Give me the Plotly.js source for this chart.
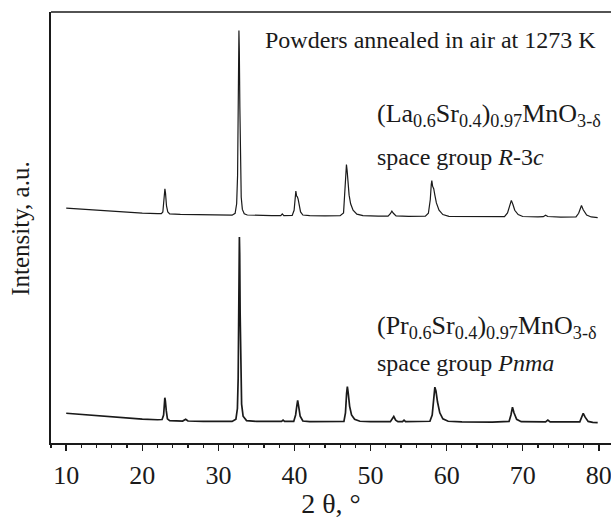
<!DOCTYPE html>
<html>
<head>
<meta charset="utf-8">
<script src="https://cdn.plot.ly/plotly-3.0.1.min.js"></script>
<style>
  html, body { margin: 0; padding: 0; background: #fff; }
  #chart { width: 611px; height: 519px; }
</style>
</head>
<body>
<div id="chart"></div>
<script>
// XRD pattern of (La0.6Sr0.4)0.97MnO3-d (upper curve, offset upward)
const laTheta = [10.0, 12, 14, 16, 18, 20, 22, 22.5, 22.7, 22.82, 22.92, 22.97, 23.05, 23.18, 23.35, 23.6,
  25, 27, 29, 31, 31.8, 32.2, 32.4, 32.52, 32.6, 32.65, 32.7, 32.75, 32.82, 32.9, 33.0, 33.15, 33.4, 33.8,
  35, 37, 38.2, 38.4, 38.6, 39.7, 39.95, 40.08, 40.18, 40.28, 40.38, 40.48, 40.6, 40.8, 41.1,
  42, 44, 46.0, 46.45, 46.62, 46.75, 46.83, 46.92, 47.02, 47.18, 47.38, 47.7, 48.2, 49,
  51, 52.3, 52.6, 52.8, 53.0, 53.35, 55, 57.2, 57.6, 57.85, 57.98, 58.05, 58.15, 58.3, 58.45, 58.65, 59.0, 59.5, 60.3,
  63, 66, 67.6, 68.0, 68.3, 68.5, 68.7, 68.95, 69.4, 70, 72, 72.7, 73.0, 73.3, 75,
  77.0, 77.35, 77.6, 77.72, 77.95, 78.4, 79.0, 79.85];
const laInt = [54.5, 54.25, 54.0, 53.75, 53.55, 53.35, 53.2, 53.2, 53.6, 56.0, 58.6, 59.0, 58.0, 55.0, 53.6, 53.15,
  53.05, 52.95, 52.85, 52.8, 52.85, 53.3, 55.5, 62, 78, 90, 95.7, 91, 78, 64, 57, 54.2, 53.2, 52.9,
  52.8, 52.75, 52.75, 53.15, 52.75, 52.8, 54.0, 57.3, 58.45, 57.3, 57.1, 56.6, 55.0, 53.6, 52.9,
  52.75, 52.7, 52.75, 53.4, 57.5, 62.5, 64.6, 63.2, 60.5, 57.5, 55.5, 54.0, 53.1, 52.75,
  52.65, 52.65, 53.2, 53.8, 53.3, 52.7, 52.6, 52.65, 53.3, 56.5, 60.0, 60.86, 59.6, 59.0, 57.5, 55.7, 54.0, 53.0, 52.6,
  52.5, 52.45, 52.5, 53.4, 55.0, 56.3, 55.4, 54.0, 53.0, 52.55, 52.45, 52.5, 52.85, 52.55, 52.4,
  52.45, 53.3, 54.6, 55.1, 54.1, 52.9, 52.45, 52.3];

// XRD pattern of (Pr0.6Sr0.4)0.97MnO3-d (lower curve)
const prTheta = [10.0, 12, 14, 16, 18, 20, 22, 22.6, 22.8, 22.9, 22.96, 23.03, 23.15, 23.3, 23.6,
  25.3, 25.7, 26.0, 28, 30, 31.8, 32.3, 32.5, 32.6, 32.66, 32.72, 32.76, 32.8, 32.86, 32.94, 33.05, 33.25, 33.7,
  35, 38.3, 38.5, 38.7, 39.9, 40.15, 40.3, 40.42, 40.55, 40.75, 41.1,
  42, 46.5, 46.7, 46.85, 46.95, 47.05, 47.25, 47.5, 47.9, 48.6,
  50, 52.6, 52.9, 53.05, 53.3, 53.6, 54.2, 54.4, 54.6, 57.8, 58.1, 58.3, 58.45, 58.6, 58.8, 59.1, 59.5, 60.2,
  62, 66, 68.2, 68.45, 68.65, 68.85, 69.2, 69.8, 72, 73.0, 73.3, 73.6,
  77.5, 77.75, 77.95, 78.2, 78.6, 79.2, 79.85];
const prInt = [6.9, 6.6, 6.3, 6.0, 5.75, 5.55, 5.4, 5.45, 6.5, 9.0, 10.5, 9.8, 7.5, 5.6, 5.2,
  5.1, 5.5, 5.1, 5.0, 4.95, 5.0, 5.5, 8, 15, 30, 44, 47.8, 44, 30, 16, 9, 6.2, 5.2,
  5.0, 5.0, 5.3, 5.0, 5.0, 6.5, 8.5, 9.9, 8.5, 6.2, 5.1,
  4.95, 5.0, 7.0, 11.5, 13.1, 11.8, 8.5, 6.5, 5.5, 5.05,
  4.95, 4.95, 5.8, 6.15, 5.3, 4.95, 4.95, 5.3, 4.95, 5.05, 6.5, 10.5, 12.95, 12.0, 9.5, 7.0, 5.6, 5.05,
  4.9, 4.85, 5.0, 6.5, 8.3, 7.0, 5.5, 4.95, 4.85, 4.9, 5.3, 4.9,
  4.9, 6.0, 6.9, 6.0, 5.0, 4.8, 4.75];

// Annotation texts
const titleNote = 'Powders annealed in air at 1273 K';
const laLabel = '(La<sub>0.6</sub>Sr<sub>0.4</sub>)<sub>0.97</sub>MnO<sub>3-δ</sub>';
const laGroup = 'space group <i>R</i>-3<i>c</i>';
const prLabel = '(Pr<sub>0.6</sub>Sr<sub>0.4</sub>)<sub>0.97</sub>MnO<sub>3-δ</sub>';
const prGroup = 'space group <i>Pnma</i>';

const serif = '"Liberation Serif", "Times New Roman", Times, serif';
const ink = '#1a1a1a';

const traces = [
  { x: laTheta, y: laInt, type: 'scatter', mode: 'lines',
    line: { color: ink, width: 1.2 }, hoverinfo: 'skip' },
  { x: prTheta, y: prInt, type: 'scatter', mode: 'lines',
    line: { color: ink, width: 1.7 }, hoverinfo: 'skip' }
];

const noteFont = { family: serif, size: 24, color: ink };
const formulaFont = { family: serif, size: 26, color: ink };

const layout = {
  width: 611, height: 519,
  font: { family: serif, size: 23, color: ink },
  margin: { l: 51, r: 0, t: 12, b: 76 },
  paper_bgcolor: '#fff', plot_bgcolor: '#fff',
  showlegend: false,
  xaxis: {
    range: [8, 81.6],
    tick0: 10, dtick: 10,
    ticks: 'outside', ticklen: 6, tickwidth: 1.5, tickcolor: ink,
    minor: { dtick: 2, tick0: 10, ticks: 'outside', ticklen: 3.5, tickwidth: 1.2, tickcolor: ink },
    showline: true, linecolor: ink, linewidth: 1.6,
    showgrid: false, zeroline: false,
    tickfont: { family: serif, size: 26, color: ink },
    ticklabelstandoff: 2,
    ticklabeloverflow: 'allow',
    title: { text: '2 θ, °', font: { family: serif, size: 28, color: ink }, standoff: 13 }
  },
  yaxis: {
    range: [0, 100],
    showticklabels: false, ticks: '',
    showline: true, linecolor: ink, linewidth: 1.6,
    showgrid: false, zeroline: false
  },
  shapes: [
    { type: 'line', xref: 'paper', yref: 'paper', x0: 0, x1: 1, y0: 1, y1: 1,
      line: { color: ink, width: 1.6 } }
  ],
  annotations: [
    { text: 'Intensity, a.u.', xref: 'paper', yref: 'paper', x: 0, y: 0.497,
      xanchor: 'center', yanchor: 'middle', xshift: -30, textangle: -90,
      showarrow: false, font: { family: serif, size: 25, color: ink } },
    { text: titleNote, xref: 'x', yref: 'y', x: 79.9, y: 93.5,
      xanchor: 'right', yanchor: 'middle', showarrow: false, font: noteFont },
    { text: laLabel, xref: 'x', yref: 'y', x: 50.6, y: 76.0,
      xanchor: 'left', yanchor: 'middle', showarrow: false, font: formulaFont },
    { text: laGroup, xref: 'x', yref: 'y', x: 50.6, y: 66.3,
      xanchor: 'left', yanchor: 'middle', showarrow: false, font: noteFont },
    { text: prLabel, xref: 'x', yref: 'y', x: 50.6, y: 26.9,
      xanchor: 'left', yanchor: 'middle', showarrow: false, font: formulaFont },
    { text: prGroup, xref: 'x', yref: 'y', x: 50.6, y: 18.45,
      xanchor: 'left', yanchor: 'middle', showarrow: false, font: noteFont }
  ]
};

Plotly.newPlot('chart', traces, layout, { staticPlot: true, displayModeBar: false });
</script>
</body>
</html>
